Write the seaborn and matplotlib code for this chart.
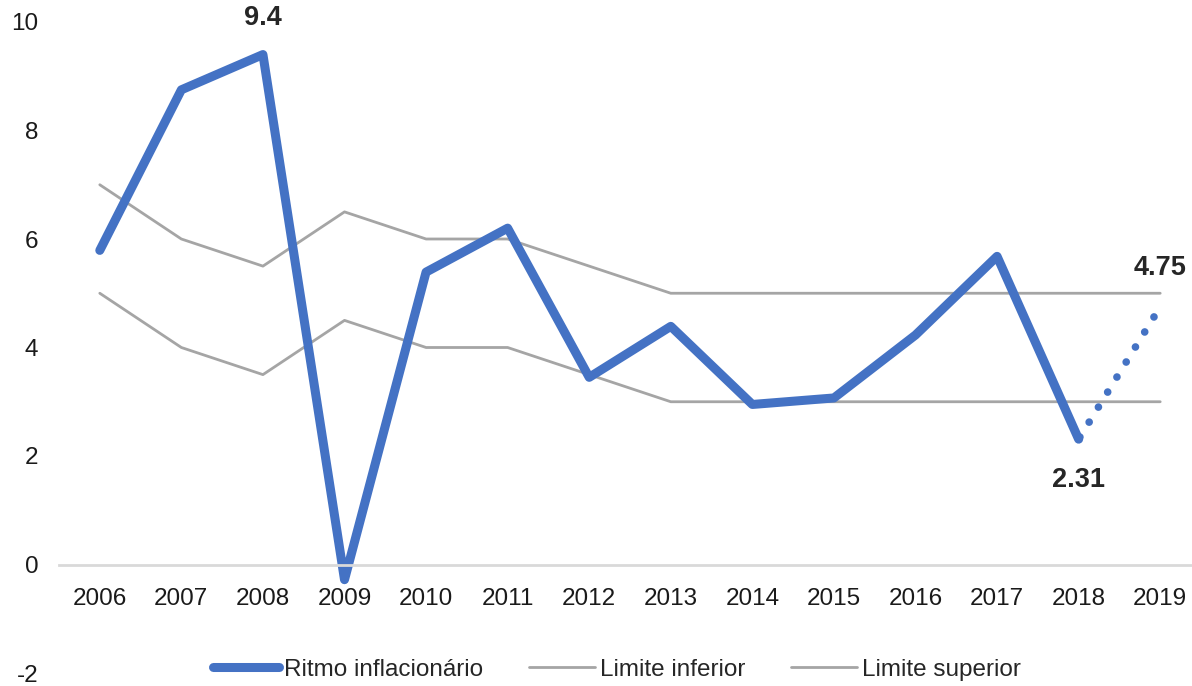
import matplotlib
matplotlib.use("Agg")
from matplotlib import pyplot as plt
import seaborn as sns
import pandas as pd

years = ['2006', '2007', '2008', '2009', '2010', '2011', '2012',
         '2013', '2014', '2015', '2016', '2017', '2018', '2019']
ritmo = [5.79, 8.75, 9.40, -0.28, 5.39, 6.20, 3.45, 4.39, 2.95, 3.07, 4.23, 5.68, 2.31]
ritmo_proj = [2.31, 4.75]
lim_inf = [5, 4, 3.5, 4.5, 4, 4, 3.5, 3, 3, 3, 3, 3, 3, 3]
lim_sup = [7, 6, 5.5, 6.5, 6, 6, 5.5, 5, 5, 5, 5, 5, 5, 5]

blue = '#4472C4'
gray = '#A5A5A5'

sns.set_style('white')
plt.rcParams['font.family'] = ['Liberation Sans', 'DejaVu Sans']
plt.rcParams['axes.unicode_minus'] = False

fig = plt.figure(figsize=(11.92, 6.86), dpi=100)
ax = fig.add_axes([59 / 1192, 13 / 686, 1142 / 1192, 651 / 686])

df_r = pd.DataFrame({'ano': years[:len(ritmo)], 'valor': ritmo})
df_p = pd.DataFrame({'ano': years[-2:], 'valor': ritmo_proj})
df_i = pd.DataFrame({'ano': years, 'valor': lim_inf})
df_s = pd.DataFrame({'ano': years, 'valor': lim_sup})

# limites primeiro para fixar a ordem das categorias
sns.lineplot(data=df_i, x='ano', y='valor', ax=ax, color=gray, lw=2,
             label='Limite inferior', sort=False)
sns.lineplot(data=df_s, x='ano', y='valor', ax=ax, color=gray, lw=2,
             label='Limite superior', sort=False)
sns.lineplot(data=df_r, x='ano', y='valor', ax=ax, color=blue, lw=6.5,
             label='Ritmo inflacionário', sort=False,
             solid_capstyle='round', solid_joinstyle='round')
sns.lineplot(data=df_p, x='ano', y='valor', ax=ax, color=blue, lw=5.5,
             dashes=False, sort=False, ls=(2.0, (0.01, 2.3)),
             dash_capstyle='round')

ax.set_xlim(-0.5, len(years) - 0.5)
ax.set_ylim(-2, 10)
ax.set_yticks([-2, 0, 2, 4, 6, 8, 10])
ax.set_xlabel('')
ax.set_ylabel('')

for s in ['top', 'right', 'left']:
    ax.spines[s].set_visible(False)
ax.spines['bottom'].set_position(('data', 0))
ax.spines['bottom'].set_color('#D9D9D9')
ax.spines['bottom'].set_linewidth(2)
ax.tick_params(axis='x', length=0, pad=17, labelsize=17.5, colors='#1a1a1a')
ax.tick_params(axis='y', length=0, pad=15, labelsize=17.5, colors='#1a1a1a')

# rótulos de valor
ax.text(2, 9.4 + 0.68, '9.4', ha='center', va='center', fontsize=19.5, fontweight='bold')
ax.text(12, 2.31 - 0.75, '2.31', ha='center', va='center', fontsize=19.5, fontweight='bold')
ax.text(13, 4.75 + 0.72, '4.75', ha='center', va='center', fontsize=19.5, fontweight='bold')

h, l = ax.get_legend_handles_labels()
order = [l.index('Ritmo inflacionário'), l.index('Limite inferior'), l.index('Limite superior')]
leg = ax.legend([h[i] for i in order], [l[i] for i in order], loc='center',
                bbox_to_anchor=((617 - 59) / 1142, 0.005),
                ncol=3, frameon=False, fontsize=17.5, handlelength=2.7,
                handletextpad=0.2, columnspacing=1.9)

fig.savefig('out.png', dpi=100)
